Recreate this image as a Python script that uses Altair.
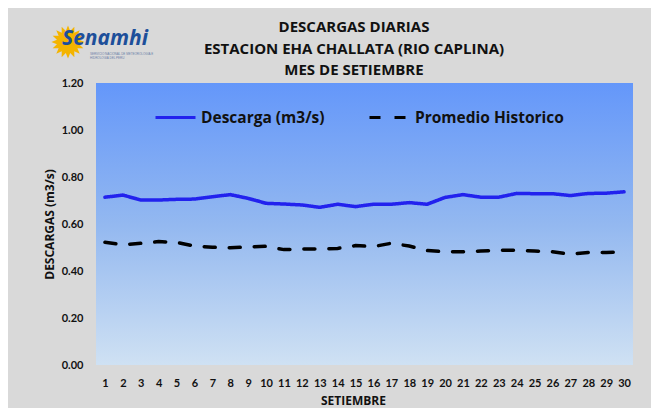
import math
import altair as alt
import pandas as pd

days = list(range(1, 31))
descarga = [0.714, 0.723, 0.702, 0.702, 0.705, 0.706, 0.716, 0.725, 0.709, 0.688,
            0.685, 0.681, 0.671, 0.684, 0.674, 0.684, 0.684, 0.691, 0.684, 0.713,
            0.725, 0.714, 0.714, 0.730, 0.729, 0.729, 0.721, 0.730, 0.731, 0.737]
promedio = [0.522, 0.512, 0.518, 0.525, 0.522, 0.506, 0.501, 0.499, 0.502, 0.505,
            0.491, 0.494, 0.494, 0.496, 0.508, 0.504, 0.518, 0.506, 0.487, 0.482,
            0.482, 0.485, 0.488, 0.488, 0.485, 0.482, 0.472, 0.479, 0.479, 0.480]
series_names = ["Descarga (m3/s)", "Promedio Historico"]
y_ticks = [0.0, 0.2, 0.4, 0.6, 0.8, 1.0, 1.2]
title_lines = ["DESCARGAS DIARIAS", "ESTACION EHA CHALLATA (RIO CAPLINA)", "MES DE SETIEMBRE"]

W, H = 537, 282
FONT = "Lato"
FONT2 = "Open Sans"

df = pd.DataFrame({
    "dia": days * 2,
    "valor": descarga + promedio,
    "serie": [series_names[0]] * 30 + [series_names[1]] * 30,
})

legend = alt.Legend(
    title=None, orient="none", legendX=58, legendY=13, direction="horizontal",
    symbolType="stroke", symbolSize=1600, symbolStrokeWidth=3,
    labelFont=FONT2, labelFontSize=15.5, labelFontWeight="bold", labelColor="#111111",
    labelLimit=300, columnPadding=38, labelOffset=4,
)

bg = alt.Chart(pd.DataFrame({"a": [0]})).mark_rect(
    fill={"gradient": "linear", "x1": 0, "y1": 0, "x2": 0, "y2": 1,
          "stops": [{"offset": 0, "color": "#6497FA"},
                    {"offset": 0.5, "color": "#93B8F0"},
                    {"offset": 1, "color": "#CFE1F3"}]}
).encode(x=alt.value(0), x2=alt.value(W), y=alt.value(0), y2=alt.value(H))

lines = alt.Chart(df).mark_line(strokeWidth=3.5, strokeCap="round").encode(
    x=alt.X("dia:O", title="SETIEMBRE",
            axis=alt.Axis(labelAngle=0, ticks=False, domain=False, grid=False,
                          labelFont=FONT, labelFontSize=11, labelFontWeight="bold",
                          labelColor="#111111", labelPadding=12,
                          titleFont=FONT2, titleFontSize=12, titleFontWeight="bold",
                          titleColor="#111111", titlePadding=7, titleX=257)),
    y=alt.Y("valor:Q", title="DESCARGAS (m3/s)",
            scale=alt.Scale(domain=[0, 1.2], nice=False),
            axis=alt.Axis(values=y_ticks, format=".2f", ticks=False, domain=False,
                          grid=False, labelFont=FONT, labelFontSize=11,
                          labelFontWeight="bold", labelColor="#111111",
                          labelPadding=13, titleFont=FONT2, titleFontSize=12,
                          titleFontWeight="bold", titleColor="#111111",
                          titlePadding=5)),
    color=alt.Color("serie:N", scale=alt.Scale(domain=series_names,
                                               range=["#2222EE", "#000000"]),
                    legend=legend),
    strokeDash=alt.StrokeDash("serie:N", scale=alt.Scale(domain=series_names,
                                                         range=[[1, 0], [11, 14]]),
                              legend=legend),
)

# Title as text lines above the plot
title_df = pd.DataFrame({"t": title_lines, "row": [0, 1, 2]})
title = alt.Chart(title_df).mark_text(
    font=FONT2, fontSize=15, fontWeight="bold", color="#111111",
    align="center", baseline="middle"
).encode(
    text="t:N",
    x=alt.value(258),
    y=alt.Y("row:O", scale=alt.Scale(domain=[0, 1, 2], range=[-56, -13], padding=0),
            axis=None),
)

# Sun-shaped logo
pts = []
n = 16
for i in range(2 * n):
    r = 1.0 if i % 2 == 0 else 0.68
    a = math.pi * i / n
    pts.append(f"{r * math.cos(a):.3f},{r * math.sin(a):.3f}")
sun_path = "M" + " L".join(pts) + " Z"

logo_df = pd.DataFrame({"a": [0]})
sun = alt.Chart(logo_df).mark_point(shape=sun_path, filled=True, color="#F4B400",
                                    opacity=1, size=1100).encode(
    x=alt.value(-28), y=alt.value(-41))
logo_txt = alt.Chart(logo_df).mark_text(
    text="Senamhi", font="Noto Sans", fontSize=21, fontWeight="bold",
    fontStyle="italic", color="#1D4F9A", align="left", baseline="middle"
).encode(x=alt.value(-34), y=alt.value(-44))
logo_sub = alt.Chart(logo_df).mark_text(
    text=["SERVICIO NACIONAL DE METEOROLOGIA E", "HIDROLOGIA DEL PERU"],
    fontSize=3, color="#6A7FA8", align="left", baseline="top", lineHeight=3.5
).encode(x=alt.value(-6), y=alt.value(-30))

chart = alt.layer(bg, lines, title, sun, logo_txt, logo_sub).resolve_scale(
    y="independent"
).properties(
    width=W, height=H,
    background="#D9D9D9",
    autosize=alt.AutoSizeParams(type="none"),
    padding={"left": 88, "top": 75, "right": 18, "bottom": 43},
).configure_view(stroke=None)

chart.save("out.html", embed_options={"renderer": "svg", "actions": False})
